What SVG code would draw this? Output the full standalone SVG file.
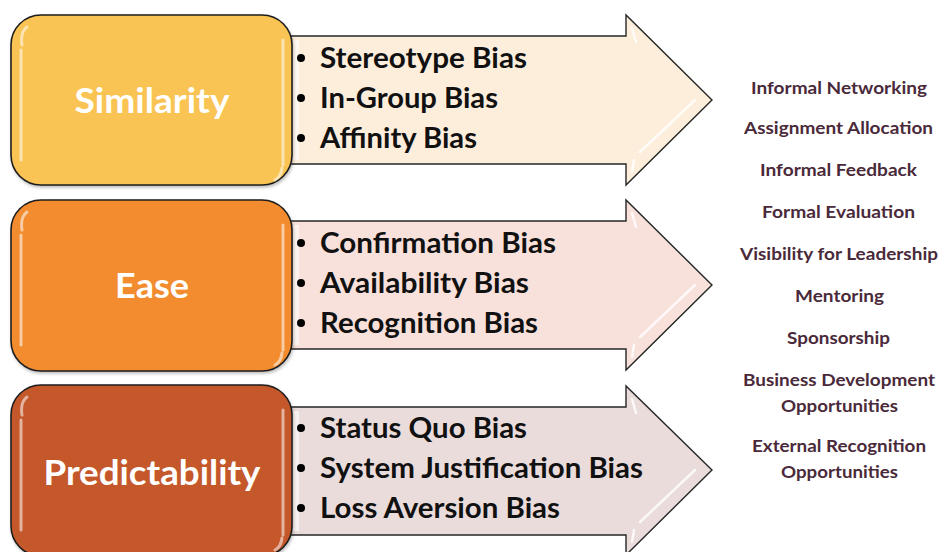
<svg xmlns="http://www.w3.org/2000/svg" width="940" height="552" viewBox="0 0 940 552">
  <defs>
    <style>
      .box { stroke: #1e1e1e; stroke-width: 1.6; }
      .arrow { stroke: #262626; stroke-width: 1.4; stroke-linejoin: miter; }
      .gloss { fill: none; stroke: #ffffff; stroke-width: 3; stroke-linecap: round; opacity: 0.55; }
      .bevel { fill: none; stroke: #ffffff; stroke-width: 2.5; stroke-linecap: round; opacity: 0.8; }
      .band { fill: #ffffff; opacity: 0.6; }
      .label { font-family: Lato, "Liberation Sans", sans-serif; font-weight: bold; font-size: 35px; fill: #ffffff; text-anchor: middle; }
      .item { font-family: Lato, "Liberation Sans", sans-serif; font-weight: bold; font-size: 28px; fill: #111111; }
      .dot { fill: #000000; }
      .out { font-family: Lato, "Liberation Sans", sans-serif; font-weight: bold; font-size: 17.5px; fill: #4a2a3a; text-anchor: middle; }
    </style>
    <filter id="shadow" x="-5%" y="-5%" width="115%" height="120%">
      <feDropShadow dx="1" dy="2" stdDeviation="1.5" flood-color="#000000" flood-opacity="0.25"/>
    </filter>
  </defs>

  <!-- Row 1: Similarity -->
  <g id="similarity">
    <path class="arrow" d="M285,36 H626 V15 L712,100 L626,185 V164 H285 Z" fill="#fdeedc"/>
    <rect class="band" x="293" y="40" width="6" height="120"/>
    <path class="bevel" d="M632,28 L636,42 M695,100 L640,152 M632,172 L634,160"/>
    <rect class="box" x="11" y="15" width="281" height="170" rx="30" fill="#f9c452" filter="url(#shadow)"/>
    <path class="gloss" d="M22,45 Q20,32 27,27 M21,50 V160 M283,40 V165 M282,168 Q281,177 275,180"/>
    <text class="label" x="152" y="113" textLength="155" lengthAdjust="spacingAndGlyphs">Similarity</text>
    <circle class="dot" cx="301" cy="58" r="4"/>
    <circle class="dot" cx="301" cy="98" r="4"/>
    <circle class="dot" cx="301" cy="138" r="4"/>
    <text class="item" x="320" y="68" textLength="207" lengthAdjust="spacingAndGlyphs">Stereotype Bias</text>
    <text class="item" x="320" y="108" textLength="178" lengthAdjust="spacingAndGlyphs">In-Group Bias</text>
    <text class="item" x="320" y="148" textLength="157" lengthAdjust="spacingAndGlyphs">Affinity Bias</text>
  </g>

  <!-- Row 2: Ease -->
  <g id="ease" transform="translate(0,185)">
    <path class="arrow" d="M285,36 H626 V15 L712,100 L626,185 V164 H285 Z" fill="#f8e1db"/>
    <rect class="band" x="293" y="40" width="6" height="120"/>
    <path class="bevel" d="M632,28 L636,42 M695,100 L640,152 M632,172 L634,160"/>
    <rect class="box" x="11" y="15" width="281" height="171" rx="30" fill="#f28c2f" filter="url(#shadow)"/>
    <path class="gloss" d="M22,45 Q20,32 27,27 M21,50 V160 M283,40 V165 M282,168 Q281,177 275,180"/>
    <text class="label" x="152" y="113" textLength="74" lengthAdjust="spacingAndGlyphs">Ease</text>
    <circle class="dot" cx="301" cy="58" r="4"/>
    <circle class="dot" cx="301" cy="98" r="4"/>
    <circle class="dot" cx="301" cy="138" r="4"/>
    <text class="item" x="320" y="68" textLength="236" lengthAdjust="spacingAndGlyphs">Confirmation Bias</text>
    <text class="item" x="320" y="108" textLength="209" lengthAdjust="spacingAndGlyphs">Availability Bias</text>
    <text class="item" x="320" y="148" textLength="218" lengthAdjust="spacingAndGlyphs">Recognition Bias</text>
  </g>

  <!-- Row 3: Predictability -->
  <g id="predictability" transform="translate(0,370)">
    <path class="arrow" d="M285,37 H626 V16 L712,100 L626,185 V165 H285 Z" fill="#ebdcdc"/>
    <rect class="band" x="293" y="41" width="6" height="120"/>
    <path class="bevel" d="M632,29 L636,43 M695,100 L640,152 M632,172 L634,160"/>
    <rect class="box" x="11" y="15" width="281" height="171" rx="30" fill="#c4582a" filter="url(#shadow)"/>
    <path class="gloss" d="M22,45 Q20,32 27,27 M21,50 V160 M283,40 V165 M282,168 Q281,177 275,180"/>
    <text class="label" x="152" y="115" textLength="217" lengthAdjust="spacingAndGlyphs">Predictability</text>
    <circle class="dot" cx="301" cy="58" r="4"/>
    <circle class="dot" cx="301" cy="98" r="4"/>
    <circle class="dot" cx="301" cy="138" r="4"/>
    <text class="item" x="320" y="68" textLength="207" lengthAdjust="spacingAndGlyphs">Status Quo Bias</text>
    <text class="item" x="320" y="108" textLength="323" lengthAdjust="spacingAndGlyphs">System Justification Bias</text>
    <text class="item" x="320" y="148" textLength="240" lengthAdjust="spacingAndGlyphs">Loss Aversion Bias</text>
  </g>

  <!-- Outcome list -->
  <g id="outcomes">
    <text class="out" x="839" y="94" textLength="176" lengthAdjust="spacingAndGlyphs">Informal Networking</text>
    <text class="out" x="838.5" y="134" textLength="189" lengthAdjust="spacingAndGlyphs">Assignment Allocation</text>
    <text class="out" x="838.5" y="176" textLength="157" lengthAdjust="spacingAndGlyphs">Informal Feedback</text>
    <text class="out" x="838.5" y="218" textLength="153" lengthAdjust="spacingAndGlyphs">Formal Evaluation</text>
    <text class="out" x="839" y="260" textLength="198" lengthAdjust="spacingAndGlyphs">Visibility for Leadership</text>
    <text class="out" x="839.5" y="302" textLength="89" lengthAdjust="spacingAndGlyphs">Mentoring</text>
    <text class="out" x="838.5" y="344" textLength="103" lengthAdjust="spacingAndGlyphs">Sponsorship</text>
    <text class="out" x="839" y="386" textLength="192" lengthAdjust="spacingAndGlyphs">Business Development</text>
    <text class="out" x="839.5" y="412" textLength="117" lengthAdjust="spacingAndGlyphs">Opportunities</text>
    <text class="out" x="839" y="452" textLength="174" lengthAdjust="spacingAndGlyphs">External Recognition</text>
    <text class="out" x="839.5" y="478" textLength="117" lengthAdjust="spacingAndGlyphs">Opportunities</text>
  </g>
</svg>
